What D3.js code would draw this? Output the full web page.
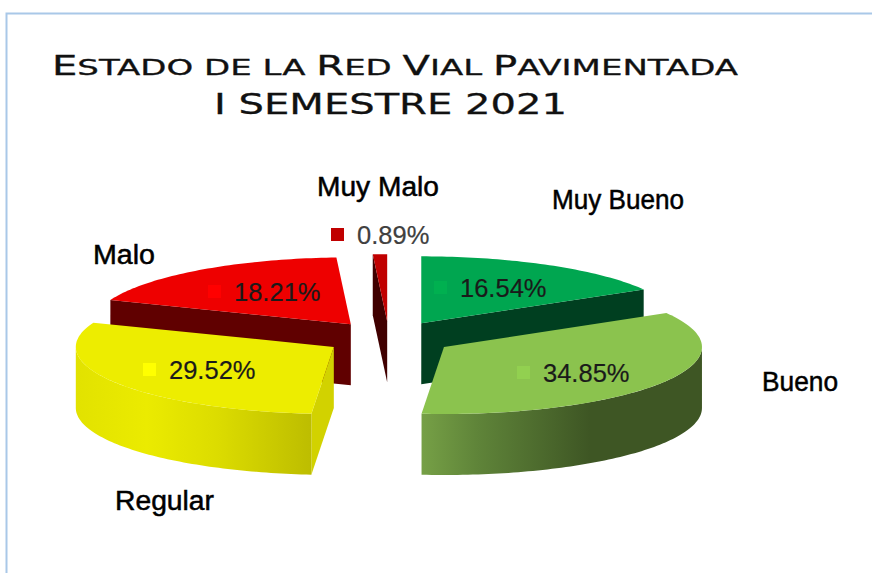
<!DOCTYPE html>
<html>
<head>
<meta charset="utf-8">
<script src="https://cdn.jsdelivr.net/npm/d3@7"></script>
<style>
  html, body { margin: 0; padding: 0; background: #fff; }
  svg { display: block; }
  text { font-family: "Liberation Sans", Arial, sans-serif; }
</style>
</head>
<body>
<svg id="chart" width="872" height="573"></svg>
<script>
const categories = ["Muy Bueno", "Bueno", "Regular", "Malo", "Muy Malo"];
const values = [16.54, 34.85, 29.52, 18.21, 0.89];

const topColors = ["#00a650", "#8bc34e", "#eded00", "#ee0000", "#c00000"];
const faceColors = ["#003f20", "#3e5624", "#d2d200", "#600000", "#400000"];
const keyColors = ["#00b050", "#92d050", "#ffff00", "#ff0000", "#c00000"];

// where the texts sit: name x, name baseline, name width, value key x, value baseline
const nameX = [552, 762, 115, 93, 317];
const nameY = [209, 391, 510, 264, 196];
const nameW = [132, 76, 99, 62, 122];
const keyX = [434, 517, 143, 208, 331];
const valueY = [297, 382, 379, 301, 244];

const cx = 389, cy = 338;
const rx = 258, ry = 67, depth = 61, explode = 65;

const svg = d3.select("#chart");

// frame
svg.append("path")
  .attr("d", "M6.5,573V13.5H872")
  .attr("fill", "none")
  .attr("stroke", "#a9c8e8")
  .attr("stroke-width", 2);

// title, capitals larger than the rest
const title = svg.append("text")
  .attr("x", 52).attr("y", 75)
  .attr("textLength", 686).attr("lengthAdjust", "spacingAndGlyphs")
  .attr("fill", "#111").attr("stroke", "#111").attr("stroke-width", 0.3)
  .style("font-family", "'DejaVu Sans'");
"Estado de la Red Vial Pavimentada".split(" ").forEach((w, i, all) => {
  const big = w[0] === w[0].toUpperCase();
  title.append("tspan").attr("font-size", big ? 26 : 22).text(big ? w[0] : w[0].toUpperCase());
  title.append("tspan").attr("font-size", 22)
    .text(w.slice(1).toUpperCase() + (i < all.length - 1 ? " " : ""));
});
svg.append("text")
  .attr("x", 214).attr("y", 114)
  .attr("textLength", 353).attr("lengthAdjust", "spacingAndGlyphs")
  .attr("font-size", 28)
  .attr("fill", "#111").attr("stroke", "#111").attr("stroke-width", 0.3)
  .style("font-family", "'DejaVu Sans'")
  .text("I SEMESTRE 2021");

// gradients for the rims
const defs = svg.append("defs");
function rimGradient(id, stops) {
  const g = defs.append("linearGradient").attr("id", id);
  stops.forEach(s => g.append("stop").attr("offset", s[0]).attr("stop-color", s[1]));
}
rimGradient("rim1", [[0, "#76a046"], [0.2, "#5f8439"], [0.6, "#3e5624"], [1, "#3e5624"]]);
rimGradient("rim2", [[0, "#e2e200"], [0.3, "#ebeb00"], [0.6, "#dcdc00"], [1, "#bdbd00"]]);

const arcs = d3.pie().sort(null).value(d => d).startAngle(0).endAngle(2 * Math.PI)(values);

const line = d3.line();
function project(a, r, ox, oy, z) {
  return [ox + r * rx * Math.sin(a), oy - r * ry * Math.cos(a) + z];
}
function sampled(a0, a1) {
  const n = Math.max(2, Math.ceil((a1 - a0) / 0.02));
  return d3.range(n + 1).map(i => a0 + (a1 - a0) * i / n);
}

// back slices first
const slices = arcs.map(d => {
  const mid = (d.startAngle + d.endAngle) / 2;
  return {
    d, mid,
    ox: cx + explode * Math.sin(mid),
    oy: cy - explode * (ry / rx) * Math.cos(mid)
  };
}).sort((p, q) => p.oy - q.oy);

slices.forEach(s => {
  const i = s.d.index, a0 = s.d.startAngle, a1 = s.d.endAngle;
  const g = svg.append("g");
  const face = a => {
    const p0 = project(a, 0, s.ox, s.oy, 0), p1 = project(a, 1, s.ox, s.oy, 0);
    g.append("path")
      .attr("d", line([p0, p1, [p1[0], p1[1] + depth], [p0[0], p0[1] + depth]]) + "Z")
      .attr("fill", faceColors[i]);
  };
  if (Math.sin(a0) < 0) face(a0);
  if (Math.sin(a1) > 0) face(a1);

  const r0 = Math.max(a0, Math.PI / 2), r1 = Math.min(a1, 3 * Math.PI / 2);
  if (r1 > r0) {
    const top = sampled(r0, r1).map(a => project(a, 1, s.ox, s.oy, 0));
    const bottom = sampled(r0, r1).reverse().map(a => project(a, 1, s.ox, s.oy, depth));
    g.append("path")
      .attr("d", line(top.concat(bottom)) + "Z")
      .attr("fill", i === 1 ? "url(#rim1)" : i === 2 ? "url(#rim2)" : faceColors[i]);
  }

  const pts = [project(a0, 0, s.ox, s.oy, 0)]
    .concat(sampled(a0, a1).map(a => project(a, 1, s.ox, s.oy, 0)));
  g.append("path").attr("d", line(pts) + "Z").attr("fill", topColors[i]);
});

// labels
categories.forEach((name, i) => {
  svg.append("text")
    .attr("x", nameX[i]).attr("y", nameY[i])
    .attr("font-size", 27)
    .attr("textLength", nameW[i]).attr("lengthAdjust", "spacingAndGlyphs")
    .attr("fill", "#000").attr("stroke", "#000").attr("stroke-width", 0.5)
    .text(name);
  svg.append("rect")
    .attr("x", keyX[i]).attr("y", valueY[i] - 16)
    .attr("width", 13).attr("height", 13)
    .attr("fill", keyColors[i]);
  svg.append("text")
    .attr("x", keyX[i] + 26).attr("y", valueY[i])
    .attr("font-size", 25.5)
    .attr("fill", i === 4 ? "#404040" : "#1a1a1a")
    .attr("stroke", i === 4 ? "#404040" : "#1a1a1a").attr("stroke-width", 0.2)
    .text(values[i].toFixed(2) + "%");
});
</script>
</body>
</html>
